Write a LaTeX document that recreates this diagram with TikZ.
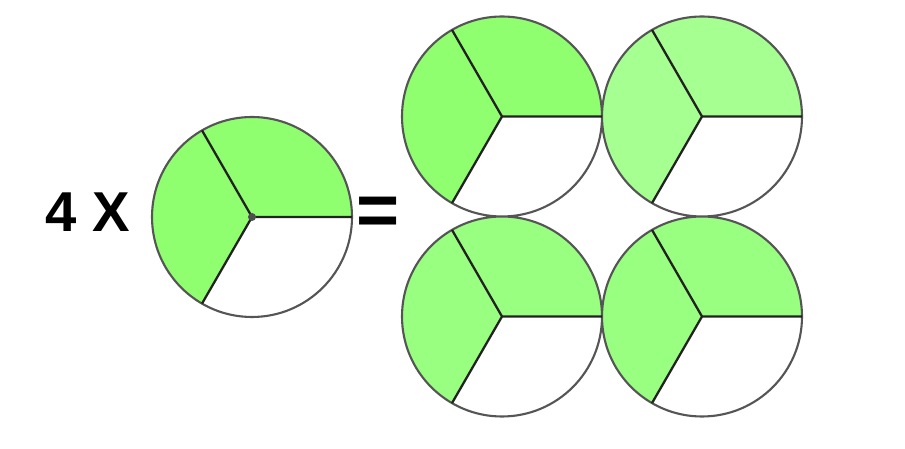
\documentclass[tikz,border=0pt]{standalone}
\usepackage{fontspec}
\setmainfont{Liberation Sans}
\definecolor{verde}{HTML}{8FFF70}
\definecolor{verdeb}{HTML}{99FF80}
\definecolor{verdec}{HTML}{A6FF91}
\definecolor{borde}{HTML}{555555}
\definecolor{radio}{HTML}{222222}
\begin{document}
\begin{tikzpicture}[
    borde/.style={draw=borde,line width=1.2pt},
    radio/.style={draw=radio,line width=1.3pt},
    texto/.style={font=\fontsize{32}{38}\selectfont\bfseries,inner sep=0pt}]
    		\useasboundingbox (0,0) rectangle (18.1,8.98);
    		%centros
    		\coordinate (c0) at (5.04,4.64);
    		\coordinate (c1) at (10.04,6.65);
    		\coordinate (c2) at (14.04,6.65);
    		\coordinate (c3) at (10.04,2.65);
    		\coordinate (c4) at (14.04,2.65);
    		%%%% CIRCULO SOLO
    		\fill[verde] (c0) -- ++(0:2) arc[start angle=0,end angle=240,radius=2] -- cycle;
    		\draw[borde] (c0) circle[radius=2];
    		\draw[radio] (c0) -- ++(0:2) (c0) -- ++(120:2) (c0) -- ++(240:2);
    		\fill[radio!80] (c0) circle[radius=0.08];
    		%%%% CUATRO CIRCULOS
    		\fill[verde] (c1) -- ++(0:2) arc[start angle=0,end angle=240,radius=2] -- cycle;
    		\fill[verdec] (c2) -- ++(0:2) arc[start angle=0,end angle=240,radius=2] -- cycle;
    		\fill[verdeb] (c3) -- ++(0:2) arc[start angle=0,end angle=240,radius=2] -- cycle;
    		\fill[verdeb] (c4) -- ++(0:2) arc[start angle=0,end angle=240,radius=2] -- cycle;
    		\draw[borde] (c1) circle[radius=2] (c2) circle[radius=2] (c3) circle[radius=2] (c4) circle[radius=2];
    		\draw[radio] (c1) -- ++(0:2) (c1) -- ++(120:2) (c1) -- ++(240:2);
    		\draw[radio] (c2) -- ++(0:2) (c2) -- ++(120:2) (c2) -- ++(240:2);
    		\draw[radio] (c3) -- ++(0:2) (c3) -- ++(120:2) (c3) -- ++(240:2);
    		\draw[radio] (c4) -- ++(0:2) (c4) -- ++(120:2) (c4) -- ++(240:2);
    		%%%TEXTO
    		\node[texto] at (1.76,4.73) (cuatro) {4 X};
    		\node[texto,font=\fontsize{42}{50}\selectfont\bfseries] at (7.56,4.65) (igual) {=};
\end{tikzpicture}
\end{document}
